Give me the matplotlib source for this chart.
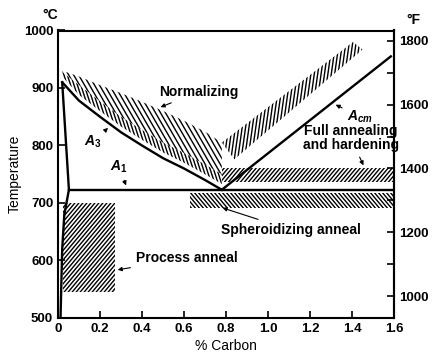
import matplotlib
matplotlib.use("Agg")
import matplotlib.pyplot as plt
import numpy as np
from matplotlib.collections import LineCollection
from matplotlib.transforms import IdentityTransform

plt.rcParams["font.family"] = ["Liberation Sans", "DejaVu Sans"]
plt.rcParams["font.weight"] = "bold"
plt.rcParams["mathtext.fontset"] = "custom"
plt.rcParams["mathtext.rm"] = "Liberation Sans:bold"
plt.rcParams["mathtext.it"] = "Liberation Sans:italic:bold"

# phase boundaries (% C, deg C)
a3_c = [0.02, 0.1, 0.2, 0.3, 0.4, 0.5, 0.6, 0.7, 0.78]
a3_t = [910, 878, 850, 823, 800, 778, 760, 740, 723]
ferrite_c = [0.02, 0.052, 0.03, 0.02, 0.012]
ferrite_t = [910, 723, 680, 620, 500]
a1_c = [0.052, 1.6]
a1_t = [723, 723]
acm_c = [0.78, 1.585]
acm_t = [723, 955]

# heat treating ranges
norm_hi_t = [930, 920, 905, 891, 876, 860, 843, 824, 805]
norm_lo_t = [928, 905, 877, 850, 827, 805, 787, 767, 750]
fa_lo_t = [920, 888, 860, 833, 810, 788, 770, 750, 733]
norm_right_c = [0.78, 1.405, 1.45, 0.84]
norm_right_t = [805, 980, 967, 776]
full_c = [0.78, 1.6]
full_t = [737, 760]
sphero_c = [0.63, 1.6]
sphero_t = [692, 718]
process_c = [0.025, 0.27]
process_t = [545, 700]

x_ticks = [0, 0.2, 0.4, 0.6, 0.8, 1.0, 1.2, 1.4, 1.6]
x_labels = ["0", "0.2", "0.4", "0.6", "0.8", "1.0", "1.2", "1.4", "1.6"]
c_ticks = [500, 600, 700, 800, 900, 1000]
f_ticks = [1000, 1200, 1400, 1600, 1800]
f_minor = [1100, 1300, 1500, 1700]

fig = plt.figure(figsize=(4.33, 3.53), dpi=100)
ax = fig.add_axes([58 / 433, 35 / 353, 336 / 433, 287.5 / 353])
ax.set_xlim(0, 1.6)
ax.set_ylim(500, 1000)


def hatch(xs, ys, angle, step, lw=1.0):
    # slanted hatch lines (pixel spacing) clipped to a polygon
    patch = ax.fill(xs, ys, facecolor="none", linewidth=0)[0]
    bb = ax.bbox
    t = np.radians(angle)
    dx, dy = np.cos(t), np.sin(t)
    L = 2 * (bb.width + bb.height)
    ym = (bb.y0 + bb.y1) / 2
    segs = [[(x - L * dx, ym - L * dy), (x + L * dx, ym + L * dy)]
            for x in np.arange(bb.x0 - L, bb.x1 + L, step)]
    lc = LineCollection(segs, colors="black", linewidths=lw,
                        transform=IdentityTransform())
    lc.set_clip_path(patch)
    ax.add_collection(lc, autolim=False)


def band(xs, lo, hi, angle, step):
    hatch(list(xs) + list(xs)[::-1], list(lo) + list(hi)[::-1], angle, step)


band(a3_c, norm_lo_t, norm_hi_t, -60, 5.0)
band(a3_c, fa_lo_t, norm_lo_t, -72, 3.4)
hatch(norm_right_c, norm_right_t, 82, 3.4)
band(full_c, [full_t[0]] * 2, [full_t[1]] * 2, 50, 4.0)
band(sphero_c, [sphero_t[0]] * 2, [sphero_t[1]] * 2, -50, 4.0)
band(process_c, [process_t[0]] * 2, [process_t[1]] * 2, 50, 4.0)

lw = 1.7
ax.plot(a3_c, a3_t, color="black", lw=lw)
ax.plot(ferrite_c, ferrite_t, color="black", lw=lw)
ax.plot(a1_c, a1_t, color="black", lw=lw)
ax.plot(acm_c, acm_t, color="black", lw=lw)

arrow = dict(arrowstyle="-|>", color="black", lw=0.8, mutation_scale=6)
fs = 10
ax.annotate("Normalizing", xy=(0.476, 865), xytext=(0.48, 893), fontsize=fs,
            ha="left", va="center", arrowprops=arrow)
ax.annotate("$A_3$", xy=(0.248, 834), xytext=(0.167, 806), fontsize=fs,
            ha="center", va="center", arrowprops=arrow)
ax.annotate("$A_1$", xy=(0.329, 726), xytext=(0.29, 763), fontsize=fs,
            ha="center", va="center", arrowprops=arrow)
ax.annotate("$A_{cm}$", xy=(1.31, 873), xytext=(1.44, 850), fontsize=fs,
            ha="center", va="center", arrowprops=arrow)
ax.annotate("Full annealing\nand hardening", xy=(1.46, 761), xytext=(1.395, 813),
            fontsize=fs, ha="center", va="center", linespacing=0.95,
            arrowprops=arrow)
ax.annotate("Spheroidizing anneal", xy=(0.771, 693), xytext=(0.776, 653),
            fontsize=fs, ha="left", va="center", arrowprops=arrow)
ax.annotate("Process anneal", xy=(0.271, 583), xytext=(0.371, 604),
            fontsize=fs, ha="left", va="center", arrowprops=arrow)

ax.set_xticks(x_ticks)
ax.set_xticklabels(x_labels)
ax.set_yticks(c_ticks)
ax.tick_params(direction="in", length=5, width=1.2, labelsize=9.5)
ax.set_xlabel("% Carbon", fontsize=10, labelpad=3)
ax.set_ylabel("Temperature", fontsize=10, labelpad=1)
for s in ax.spines.values():
    s.set_linewidth(1.5)

sec = ax.secondary_yaxis("right", functions=(lambda c: c * 9 / 5 + 32,
                                             lambda f: (f - 32) * 5 / 9))
sec.set_yticks(f_ticks)
sec.set_yticks(f_minor, minor=True)
sec.tick_params(which="both", direction="in", length=5, width=1.2, labelsize=9.5)
sec.spines["right"].set_linewidth(1.5)

ax.text(-0.024, 1.054, "°C", transform=ax.transAxes, fontsize=10,
        ha="center", va="center")
ax.text(1.057, 1.037, "°F", transform=ax.transAxes, fontsize=10,
        ha="center", va="center")

fig.savefig("out.png", dpi=100)
